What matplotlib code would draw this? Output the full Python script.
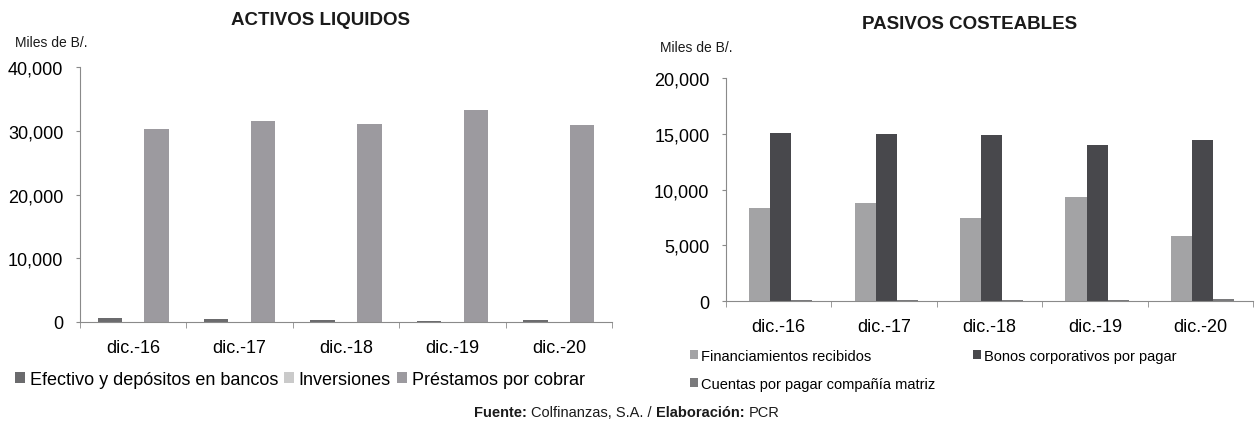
import numpy as np
import matplotlib
matplotlib.use("Agg")
import matplotlib.pyplot as plt
from matplotlib.ticker import StrMethodFormatter, FixedLocator

plt.rcParams['font.family'] = ['Liberation Sans', 'DejaVu Sans']

PERIODS = ["dic.-16", "dic.-17", "dic.-18", "dic.-19", "dic.-20"]

# activos liquidos (miles de B/.)
efectivo = [550, 450, 300, 200, 350]
inversiones = [40, 40, 40, 40, 40]
prestamos = [30250, 31550, 31050, 33300, 30950]

# pasivos costeables (miles de B/.)
financiamientos = [8300, 8750, 7450, 9300, 5850]
bonos = [15050, 14980, 14900, 13950, 14400]
cuentas = [120, 100, 100, 80, 150]

C_EFE = "#6b6b6d"
C_INV = "#cacaca"
C_PRE = "#9c9a9f"
C_FIN = "#a3a3a5"
C_BON = "#48484c"
C_CUE = "#7a7a7c"
AXC = "#8a8a8a"

fig = plt.figure(figsize=(12.57, 4.31), dpi=100)
fig.patch.set_facecolor("white")


def style_axes(ax):
    for s in ["top", "right"]:
        ax.spines[s].set_visible(False)
    ax.spines["left"].set_color(AXC)
    ax.spines["bottom"].set_color(AXC)
    ax.yaxis.set_major_formatter(StrMethodFormatter("{x:,.0f}"))
    ax.tick_params(axis="y", length=3, color=AXC, labelsize=13, pad=9)
    ax.tick_params(axis="x", which="major", length=0, labelsize=13, pad=12)
    ax.xaxis.set_minor_locator(FixedLocator(np.arange(-0.5, 5, 1.0)))
    ax.tick_params(axis="x", which="minor", length=4, color=AXC)
    ax.set_xlim(-0.5, 4.5)


x = np.arange(len(PERIODS))

# ---- left: activos liquidos
ax1 = fig.add_axes([0.0636, 0.2506, 0.4233, 0.5916])
w = 0.23
h1 = ax1.bar(x - 0.22, efectivo, w, color=C_EFE, label="Efectivo y depósitos en bancos")
h2 = ax1.bar(x, inversiones, w, color=C_INV, label="Inversiones")
h3 = ax1.bar(x + 0.22, prestamos, w, color=C_PRE, label="Préstamos por cobrar")
ax1.set_ylim(0, 40000)
ax1.set_yticks([0, 10000, 20000, 30000, 40000])
ax1.set_xticks(x)
ax1.set_xticklabels(PERIODS)
style_axes(ax1)

fig.text(0.2546, 0.953, "ACTIVOS LIQUIDOS", ha="center", va="center",
         fontsize=13.5, fontweight="bold", color="#1a1a1a")
fig.text(0.012, 0.900, "Miles de B/.", ha="left", va="center", fontsize=10, color="#1a1a1a")

fig.legend(handles=[h1, h2, h3], loc="center left", bbox_to_anchor=(0.012, 0.118),
           ncol=3, frameon=False, fontsize=13, handlelength=0.55, handleheight=0.55,
           handletextpad=0.25, columnspacing=0.35, borderaxespad=0, borderpad=0)

# ---- right: pasivos costeables
ax2 = fig.add_axes([0.5776, 0.2993, 0.4193, 0.5174])
w2 = 0.2
g1 = ax2.bar(x - 0.18, financiamientos, w2, color=C_FIN, label="Financiamientos recibidos")
g2 = ax2.bar(x + 0.02, bonos, w2, color=C_BON, label="Bonos corporativos por pagar")
g3 = ax2.bar(x + 0.22, cuentas, w2, color=C_CUE, label="Cuentas por pagar compañía matriz")
ax2.set_ylim(0, 20000)
ax2.set_yticks([0, 5000, 10000, 15000, 20000])
ax2.set_xticks(x)
ax2.set_xticklabels(PERIODS)
style_axes(ax2)

fig.text(0.7715, 0.942, "PASIVOS COSTEABLES", ha="center", va="center",
         fontsize=13.5, fontweight="bold", color="#1a1a1a")
fig.text(0.525, 0.889, "Miles de B/.", ha="left", va="center", fontsize=10, color="#1a1a1a")

fig.legend(handles=[g1, g3, g2], loc="upper left", bbox_to_anchor=(0.549, 0.188),
           ncol=2, frameon=False, fontsize=10.5, handlelength=0.55, handleheight=0.55,
           handletextpad=0.2, columnspacing=2.6, labelspacing=0.95,
           borderaxespad=0, borderpad=0)

# ---- footer with mixed weights
parts = [("Fuente: ", "bold"), ("Colfinanzas, S.A. / ", "normal"),
         ("Elaboración: ", "bold"), ("PCR", "normal")]
fig.canvas.draw()
r = fig.canvas.get_renderer()
texts = []
for s, wt in parts:
    t = fig.text(0, 0.042, s, ha="left", va="center", fontsize=10.5, fontweight=wt, color="#1a1a1a")
    texts.append(t)
widths = [t.get_window_extent(renderer=r).width for t in texts]
total = sum(widths)
xpix = 627 - total / 2
for t, wd in zip(texts, widths):
    t.set_x(xpix / fig.bbox.width)
    xpix += wd

fig.savefig("out.png", dpi=100)
